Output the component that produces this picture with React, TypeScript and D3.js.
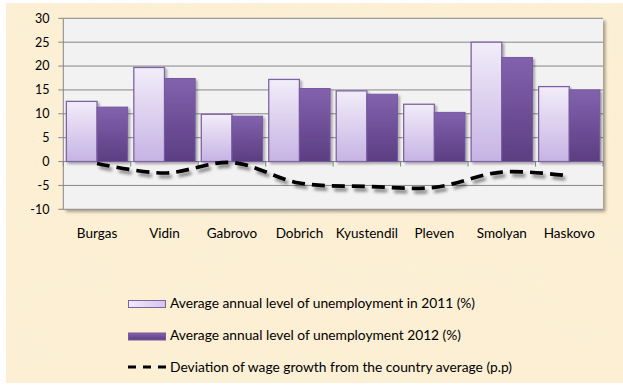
import React from "react";
import * as d3 from "d3";

const categories = ["Burgas", "Vidin", "Gabrovo", "Dobrich", "Kyustendil", "Pleven", "Smolyan", "Haskovo"];
const unemp2011 = [12.6, 19.7, 9.9, 17.2, 14.8, 12.0, 25.0, 15.7];
const unemp2012 = [11.4, 17.4, 9.5, 15.3, 14.1, 10.3, 21.8, 15.0];
const wageDeviation = [-0.4, -2.4, -0.2, -4.5, -5.2, -5.4, -2.2, -3.0];
const yTicks = [-10, -5, 0, 5, 10, 15, 20, 25, 30];
const legendLabels = [
  "Average annual level of unemployment in 2011  (%)",
  "Average annual level of unemployment 2012 (%)",
  "Deviation of wage growth from the country average (p.p)",
];
const legendWidths = [305, 291, 342];

const W = 623;
const H = 385;
const FONT = "Lato, 'Open Sans', sans-serif";

export default function App() {
  const plot = { left: 63.3, right: 603, top: 18.3, bottom: 209.3 };
  const y = d3.scaleLinear().domain([-10, 30]).range([plot.bottom, plot.top]);
  const x = d3.scaleBand<string>().domain(categories).range([plot.left, plot.right]).paddingInner(0).paddingOuter(0);
  const sub = d3.scaleBand<string>().domain(["a", "b"]).range([0, x.bandwidth()]).paddingInner(0).paddingOuter(0.1);
  const line = d3
    .line<number>()
    .x((_, i) => (x(categories[i]) as number) + x.bandwidth() / 2)
    .y((d) => y(d))
    .curve(d3.curveCatmullRom.alpha(0.5));

  const y0 = y(0);

  return (
    <svg width={W} height={H} style={{ position: "absolute", left: 0, top: 0 }} fontFamily={FONT}>
      <defs>
        <filter id="parch" x="0" y="0" width="100%" height="100%">
          <feTurbulence type="fractalNoise" baseFrequency="0.012 0.02" numOctaves="4" seed="7" result="n" />
          <feColorMatrix
            in="n"
            type="matrix"
            values="0 0 0 0 0.955  0 0 0 0 0.87  0 0 0 0 0.70  0 0 0 -1.6 1.05"
            result="c"
          />
          <feComposite in="c" in2="SourceGraphic" operator="in" />
        </filter>
        <linearGradient id="g2011" x1="0" y1="0" x2="0" y2="1">
          <stop offset="0" stopColor="#f2edf9" />
          <stop offset="1" stopColor="#c6b3e4" />
        </linearGradient>
        <linearGradient id="g2012" x1="0" y1="0" x2="0" y2="1">
          <stop offset="0" stopColor="#8262ad" />
          <stop offset="1" stopColor="#5b3e82" />
        </linearGradient>
        <linearGradient id="l2011" x1="0" y1="0" x2="1" y2="0">
          <stop offset="0" stopColor="#f0eaf8" />
          <stop offset="1" stopColor="#d3c6ec" />
        </linearGradient>
        <filter id="plotShadow" x="-5%" y="-5%" width="115%" height="115%">
          <feDropShadow dx="2.5" dy="2.5" stdDeviation="1.8" floodColor="#000" floodOpacity="0.35" />
        </filter>
        <filter id="barShadow" x="-20%" y="-20%" width="150%" height="150%">
          <feDropShadow dx="2" dy="2" stdDeviation="1.2" floodColor="#000" floodOpacity="0.3" />
        </filter>
        <filter id="lineShadow" x="-10%" y="-50%" width="120%" height="200%">
          <feDropShadow dx="2.5" dy="3.5" stdDeviation="1.6" floodColor="#000" floodOpacity="0.45" />
        </filter>
      </defs>

      {/* page background */}
      <rect x={0} y={0} width={W} height={H} fill="#ffffff" />
      <rect x={6} y={3} width={W - 6} height={H - 5} fill="#fcefd3" />
      <rect x={6} y={3} width={W - 6} height={H - 5} fill="#fcefd3" filter="url(#parch)" opacity={0.55} />

      {/* plot area */}
      <rect
        x={plot.left}
        y={plot.top}
        width={plot.right - plot.left}
        height={plot.bottom - plot.top}
        fill="#f2f2f2"
        filter="url(#plotShadow)"
      />
      {yTicks.map((t) => (
        <line key={t} x1={plot.left} x2={plot.right} y1={y(t)} y2={y(t)} stroke="#868686" strokeWidth={1} />
      ))}
      <line x1={plot.left} x2={plot.left} y1={plot.top} y2={plot.bottom} stroke="#868686" strokeWidth={1} />
      {yTicks.map((t) => (
        <line key={"t" + t} x1={plot.left - 5} x2={plot.left} y1={y(t)} y2={y(t)} stroke="#868686" strokeWidth={1} />
      ))}
      {yTicks.map((t) => (
        <text key={"l" + t} x={49.5} y={y(t)} dy="0.35em" textAnchor="end" fontSize={12.5} fill="#000">
          {t}
        </text>
      ))}

      {/* x axis ticks at zero */}
      {categories.map((c) => (
        <line
          key={"xt" + c}
          x1={x(c) as number}
          x2={x(c) as number}
          y1={y0}
          y2={y0 + 5}
          stroke="#868686"
          strokeWidth={1}
        />
      ))}
      <line x1={plot.right} x2={plot.right} y1={y0} y2={y0 + 5} stroke="#868686" strokeWidth={1} />

      {/* bars */}
      {categories.map((c, i) => {
        const bx = x(c) as number;
        const v1 = unemp2011[i];
        const v2 = unemp2012[i];
        return (
          <g key={"b" + c} filter="url(#barShadow)">
            <rect
              x={bx + (sub("a") as number)}
              y={y(v1)}
              width={sub.bandwidth()}
              height={y0 - y(v1)}
              fill="url(#g2011)"
              stroke="#8064a2"
              strokeWidth={1.3}
            />
            <rect
              x={bx + (sub("b") as number)}
              y={y(v2)}
              width={sub.bandwidth()}
              height={y0 - y(v2)}
              fill="url(#g2012)"
              stroke="#7659a0"
              strokeWidth={1}
            />
          </g>
        );
      })}

      {/* line */}
      <path
        d={line(wageDeviation) || ""}
        fill="none"
        stroke="#000"
        strokeWidth={3.7}
        strokeDasharray="13 7"
        filter="url(#lineShadow)"
      />

      {/* category labels */}
      {categories.map((c) => (
        <text
          key={"c" + c}
          x={(x(c) as number) + x.bandwidth() / 2}
          y={237.5}
          textAnchor="middle"
          fontSize={13.5}
          fill="#000"
        >
          {c}
        </text>
      ))}

      {/* legend */}
      <rect x={128.5} y={300.5} width={37} height={7} fill="url(#l2011)" stroke="#8064a2" strokeWidth={1} />
      <rect x={128.5} y={333} width={37} height={7} fill="url(#g2012)" stroke="#7659a0" strokeWidth={1} />
      <line x1={128} x2={166} y1={367} y2={367} stroke="#000" strokeWidth={3} strokeDasharray="8 7" />
      {legendLabels.map((l, i) => (
        <text
          key={"lg" + i}
          x={170}
          y={[308, 340, 372][i]}
          fontSize={13.8}
          fill="#000"
          textLength={legendWidths[i]}
          lengthAdjust="spacing"
        >
          {l}
        </text>
      ))}
    </svg>
  );
}
